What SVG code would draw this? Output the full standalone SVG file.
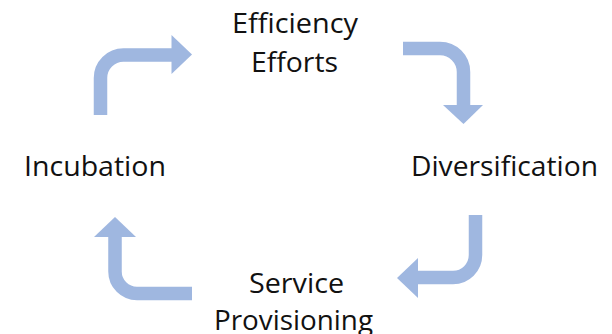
<svg xmlns="http://www.w3.org/2000/svg" width="612" height="334" viewBox="0 0 612 334">
<style>
.lbl{font-family:"Open Sans","Noto Sans","Liberation Sans",sans-serif;font-size:28px;fill:#111;}
.shaft{fill:none;stroke:#9FB7E0;stroke-width:13.5;}
.head{fill:#9FB7E0;}
</style>
<rect width="612" height="334" fill="#fff"/>
<g id="node-efficiency">
<text class="lbl" x="232" y="33" textLength="126" lengthAdjust="spacingAndGlyphs">Efficiency</text>
<text class="lbl" x="251" y="71.5" textLength="87" lengthAdjust="spacingAndGlyphs">Efforts</text>
</g>
<g id="node-diversification">
<text class="lbl" x="411" y="176" textLength="187" lengthAdjust="spacingAndGlyphs">Diversification</text>
</g>
<g id="node-service">
<text class="lbl" x="249" y="292.5" textLength="95" lengthAdjust="spacingAndGlyphs">Service</text>
<text class="lbl" x="214" y="330" textLength="159" lengthAdjust="spacingAndGlyphs">Provisioning</text>
</g>
<g id="node-incubation">
<text class="lbl" x="24" y="176" textLength="142" lengthAdjust="spacingAndGlyphs">Incubation</text>
</g>
<g id="connectors">
<path class="shaft" d="M100.5 115 V78 A23 23 0 0 1 123.5 55 H173"/>
<polygon class="head" points="171.5,35 192,54.5 171.5,74"/>
<path class="shaft" d="M403 48.5 H440 A23.5 23.5 0 0 1 463.5 72 V106"/>
<polygon class="head" points="443,105 483,105 463.5,124"/>
<path class="shaft" d="M475.5 215 V255 A22.5 22.5 0 0 1 453 277.5 H417"/>
<polygon class="head" points="418,258 418,298 397,278"/>
<path class="shaft" d="M192 293.5 H137 A22 22 0 0 1 115 271.5 V236"/>
<polygon class="head" points="94,237 136,237 115,217"/>
</g>
</svg>
